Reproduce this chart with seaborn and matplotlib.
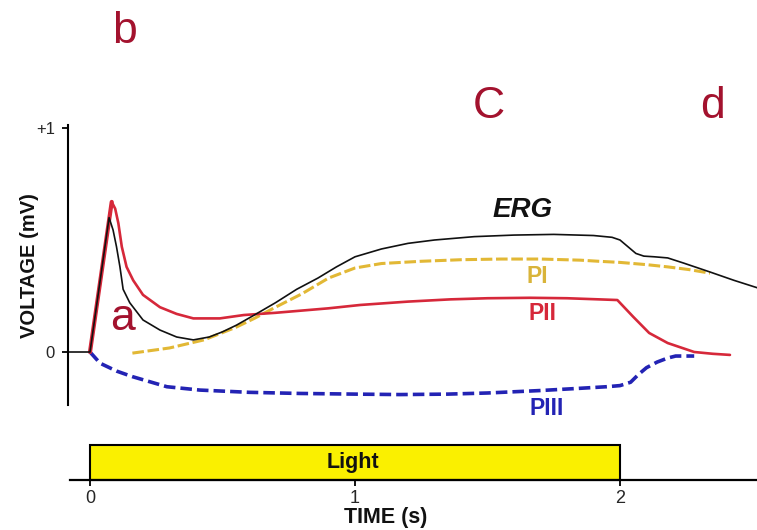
import matplotlib
matplotlib.use("Agg")
import matplotlib.pyplot as plt
import seaborn as sns
import pandas as pd

# ---------------- data ----------------
erg_t = [-0.083, 0.0, 0.072, 0.087, 0.10, 0.113, 0.125, 0.15, 0.2, 0.264, 0.327, 0.39,
         0.45, 0.5, 0.553, 0.62, 0.7, 0.78, 0.86, 0.93, 1.0, 1.1, 1.2, 1.3, 1.45, 1.6,
         1.75, 1.9, 1.97, 2.0, 2.03, 2.06, 2.09, 2.13, 2.18, 2.24, 2.34, 2.43, 2.52]
erg_v = [0.0, 0.0, 0.60, 0.545, 0.47, 0.38, 0.28, 0.22, 0.143, 0.098, 0.067, 0.054,
         0.067, 0.09, 0.12, 0.165, 0.22, 0.28, 0.33, 0.38, 0.425, 0.46, 0.485, 0.50, 0.515, 0.522,
         0.525, 0.52, 0.512, 0.50, 0.47, 0.44, 0.428, 0.425, 0.42, 0.397, 0.357, 0.32, 0.286]

pi_t = [0.16, 0.3, 0.43, 0.55, 0.62, 0.7, 0.8, 0.9, 1.0, 1.1, 1.25, 1.4, 1.55, 1.7,
        1.85, 1.92, 2.0, 2.1, 2.18, 2.26, 2.34]
pi_v = [-0.005, 0.018, 0.054, 0.11, 0.15, 0.2, 0.26, 0.33, 0.375, 0.395, 0.405, 0.412,
        0.415, 0.415, 0.41, 0.405, 0.40, 0.39, 0.38, 0.368, 0.352]

pii_t = [0.0, 0.082, 0.095, 0.107, 0.12, 0.138, 0.163, 0.2, 0.264, 0.327, 0.39, 0.49,
         0.58, 0.7, 0.8, 0.9, 1.02, 1.2, 1.36, 1.5, 1.66, 1.8, 1.92, 1.99, 2.05, 2.11,
         2.18, 2.28, 2.35, 2.415]
pii_v = [0.0, 0.67, 0.64, 0.575, 0.47, 0.38, 0.32, 0.255, 0.2, 0.17, 0.15, 0.15,
         0.165, 0.175, 0.185, 0.195, 0.21, 0.225, 0.235, 0.24, 0.242, 0.24, 0.235, 0.232, 0.157, 0.085,
         0.04, 0.0, -0.008, -0.013]

piii_t = [0.0, 0.038, 0.1, 0.16, 0.29, 0.415, 0.6, 0.79, 1.0, 1.17, 1.35, 1.5, 1.7,
          1.85, 1.95, 2.0, 2.04, 2.07, 2.1, 2.14, 2.18, 2.21, 2.28]
piii_v = [0.0, -0.05, -0.085, -0.11, -0.155, -0.17, -0.18, -0.185, -0.188, -0.19, -0.188,
          -0.183, -0.172, -0.162, -0.155, -0.15, -0.135, -0.10, -0.07, -0.045, -0.027,
          -0.018, -0.018]

y_ticks = [0, 1]
y_tick_labels = ["0", "+1"]
x_ticks = [0, 1, 2]
x_tick_labels = ["0", "1", "2"]
light_start, light_end = 0, 2
annot_letters = ["a", "b", "C", "d"]

# ---------------- styling ----------------
sns.set_style("white")
plt.rcParams["font.family"] = ["Liberation Sans", "DejaVu Sans"]

W, H = 757, 530
fig = plt.figure(figsize=(W / 100, H / 100), dpi=100)

def fx(px):
    return px / W

def fy(py):
    return 1 - py / H

# main axes: spine x=68px, top 125px, bottom 405px
ax = fig.add_axes([fx(68), fy(405), fx(757 - 68), (405 - 125) / H])
ax.set_xlim(-0.083, 2.517)
ax.set_ylim(-0.2366, 1.0134)

black = "#111111"
red = "#D6283A"
yellow = "#E2B835"
blue = "#2323B4"

def line(t, v, **kw):
    df = pd.DataFrame({"t": t, "v": v})
    sns.lineplot(data=df, x="t", y="v", ax=ax, sort=False, estimator=None, **kw)

line(piii_t, piii_v, color=blue, lw=2.6, linestyle=(0, (3.2, 1.4)))
line(pi_t, pi_v, color=yellow, lw=2.2, linestyle=(0, (3.8, 1.2)))
line(pii_t[:2], pii_v[:2], color=red, lw=3.0)
line(pii_t, pii_v, color=red, lw=1.9)
line(erg_t, erg_v, color=black, lw=1.2)

for s in ["top", "right", "bottom"]:
    ax.spines[s].set_visible(False)
ax.spines["left"].set_color("black")
ax.spines["left"].set_linewidth(1.5)
ax.set_xticks([])
ax.set_yticks(y_ticks)
ax.set_yticklabels(y_tick_labels)
ax.tick_params(axis="y", direction="out", length=4.3, width=1.3, color="black",
               labelsize=12, pad=5, left=True)
ax.set_xlabel("")
ax.set_ylabel("")

# curve labels
ax.text(1.634, 0.634, "ERG", fontsize=20, fontweight="bold", fontstyle="italic",
        color=black, ha="center", va="center")
ax.text(1.687, 0.339, "PI", fontsize=16.5, fontweight="bold", color="#D9B43A",
        ha="center", va="center")
ax.text(1.706, 0.174, "PII", fontsize=16.5, fontweight="bold", color=red,
        ha="center", va="center")
ax.text(1.725, -0.25, "PIII", fontsize=16.5, fontweight="bold", color=blue,
        ha="center", va="center", clip_on=False)

# light / time axis
ax2 = fig.add_axes([fx(70), fy(480), fx(757 - 70), 35 / H])
ax2.set_xlim(-0.0755, 2.517)
ax2.set_ylim(0, 1)
ax2.bar([light_start], [1], width=light_end - light_start, bottom=0, align="edge",
        color="#FAF000", edgecolor="black", linewidth=1.5, clip_on=False)
ax2.text((light_start + light_end) / 2 - 0.008, 0.5, "Light", fontsize=15.5,
         fontweight="bold", color=black, ha="center", va="center")
for s in ["top", "right", "left"]:
    ax2.spines[s].set_visible(False)
ax2.spines["bottom"].set_color("black")
ax2.spines["bottom"].set_linewidth(1.6)
ax2.set_yticks([])
ax2.set_xticks(x_ticks)
ax2.set_xticklabels(x_tick_labels)
ax2.tick_params(axis="x", direction="out", length=4.3, width=1.3, color="black",
                labelsize=13, pad=3, bottom=True)

fig.text(fx(386), fy(517), "TIME (s)", fontsize=15.5, fontweight="bold",
         ha="center", va="center", color=black)
fig.text(fx(29.5), fy(266), "VOLTAGE (mV)", fontsize=14.5, fontweight="bold",
         rotation=90, ha="center", va="center", color=black)

# panel letters
letter_color = "#A3122E"
letter_pos = [(123, 330), (124, 43), (489, 118), (712, 118)]
for s, (px, py) in zip(annot_letters, letter_pos):
    fig.text(fx(px), fy(py), s, fontsize=32, color=letter_color,
             ha="center", va="baseline")

fig.savefig("out.png", dpi=100)
